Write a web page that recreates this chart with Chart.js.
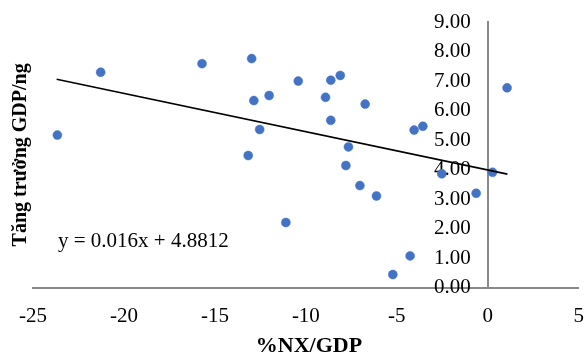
<!DOCTYPE html>
<html>
<head>
<meta charset="utf-8">
<script src="https://cdn.jsdelivr.net/npm/chart.js@4"></script>
<style>
  html, body { margin: 0; padding: 0; background: #ffffff; }
  canvas { display: block; }
</style>
</head>
<body>
<canvas id="chart" width="584" height="354"></canvas>
<script>
// Net exports share of GDP (%) against GDP growth, one point per year
const nxGdp = [-23.66, -21.28, -15.71, -12.98, -12.86, -12.02, -12.54, -13.17, -10.42,
               -8.63, -8.11, -8.92, -6.74, -8.63, -4.05, -3.57, -7.66, -7.80,
               1.06, 0.26, -2.53, -7.03, -6.12, -0.64, -11.10, -4.27, -5.22];
const gdpGrowth = [5.17, 7.30, 7.59, 7.76, 6.34, 6.51, 5.36, 4.48, 7.00,
                   7.03, 7.19, 6.45, 6.22, 5.67, 5.34, 5.47, 4.77, 4.14,
                   6.77, 3.91, 3.86, 3.46, 3.11, 3.20, 2.21, 1.08, 0.45];

// Linear trend line end points
const trendX = [-23.7, 1.08];
const trendY = [7.06, 3.85];

const xTicks = [-25, -20, -15, -10, -5, 0, 5];
const yTicks = [0, 1, 2, 3, 4, 5, 6, 7, 8, 9];

const xTitle = '%NX/GDP';
const yTitle = 'Tăng trưởng GDP/ng';
const equationLabel = 'y = 0.016x + 4.8812';

const serif = '"Liberation Serif", "Times New Roman", serif';
const axisGray = '#898989';
const pointBlue = '#4472C4';
const yLabelGap = 17;

// Linear scale whose labels keep a gap from an axis placed inside the plot
class CrossingLinearScale extends Chart.LinearScale {
  _computeLabelItems(chartArea) {
    const items = super._computeLabelItems(chartArea);
    items.forEach(item => {
      if (item.options && item.options.translation) {
        item.options.translation[0] -= yLabelGap;
      }
    });
    return items;
  }
}
CrossingLinearScale.id = 'crossingLinear';
CrossingLinearScale.defaults = Chart.LinearScale.defaults;
Chart.register(CrossingLinearScale);

// Axis titles and trend-line equation
const textPlugin = {
  id: 'chartText',
  afterDraw(chart) {
    const ctx = chart.ctx;
    const area = chart.chartArea;

    ctx.save();
    ctx.fillStyle = '#000000';
    ctx.font = 'bold 20px ' + serif;
    ctx.textAlign = 'center';
    ctx.textBaseline = 'middle';
    ctx.translate(21, (area.top + area.bottom) / 2);
    ctx.rotate(-Math.PI / 2);
    ctx.fillText(yTitle, 0, 0);
    ctx.restore();

    ctx.save();
    ctx.fillStyle = '#000000';
    ctx.font = 'bold 22px ' + serif;
    ctx.textAlign = 'center';
    ctx.textBaseline = 'alphabetic';
    ctx.fillText(xTitle, 309, 351.5);
    ctx.restore();

    ctx.save();
    ctx.fillStyle = '#000000';
    ctx.font = '21px ' + serif;
    ctx.textAlign = 'left';
    ctx.textBaseline = 'alphabetic';
    ctx.fillText(equationLabel, 58, 247);
    ctx.restore();
  }
};

new Chart(document.getElementById('chart'), {
  type: 'scatter',
  data: {
    datasets: [
      {
        type: 'line',
        data: trendX.map((x, i) => ({ x: x, y: trendY[i] })),
        borderColor: '#000000',
        borderWidth: 1.6,
        pointRadius: 0,
        fill: false,
        order: 0
      },
      {
        data: nxGdp.map((x, i) => ({ x: x, y: gdpGrowth[i] })),
        backgroundColor: pointBlue,
        borderColor: pointBlue,
        pointRadius: 4.5,
        pointBorderWidth: 0.5,
        order: 1
      }
    ]
  },
  options: {
    responsive: false,
    animation: false,
    devicePixelRatio: 1,
    layout: { padding: { left: 33, right: 5, top: 22, bottom: 25 } },
    plugins: {
      legend: { display: false },
      tooltip: { enabled: false }
    },
    scales: {
      x: {
        type: 'linear',
        position: 'bottom',
        min: -25,
        max: 5,
        afterBuildTicks: s => { s.ticks = xTicks.map(v => ({ value: v })); },
        ticks: {
          color: '#000000',
          font: { family: serif, size: 21 },
          padding: 0,
          autoSkip: false,
          maxRotation: 0
        },
        grid: { display: false, drawTicks: true, tickLength: 16 },
        border: { display: true, color: axisGray, width: 2 }
      },
      y: {
        type: 'crossingLinear',
        axis: 'y',
        position: { x: 0 },
        min: 0,
        max: 9,
        afterBuildTicks: s => { s.ticks = yTicks.map(v => ({ value: v })); },
        afterFit: s => { s.paddingTop = 0; s.paddingBottom = 0; },
        ticks: {
          color: '#000000',
          font: { family: serif, size: 21 },
          padding: 0,
          autoSkip: false,
          callback: v => Number(v).toFixed(2)
        },
        grid: { display: false, drawTicks: false },
        border: { display: true, color: axisGray, width: 2 }
      }
    }
  },
  plugins: [textPlugin]
});
</script>
</body>
</html>
